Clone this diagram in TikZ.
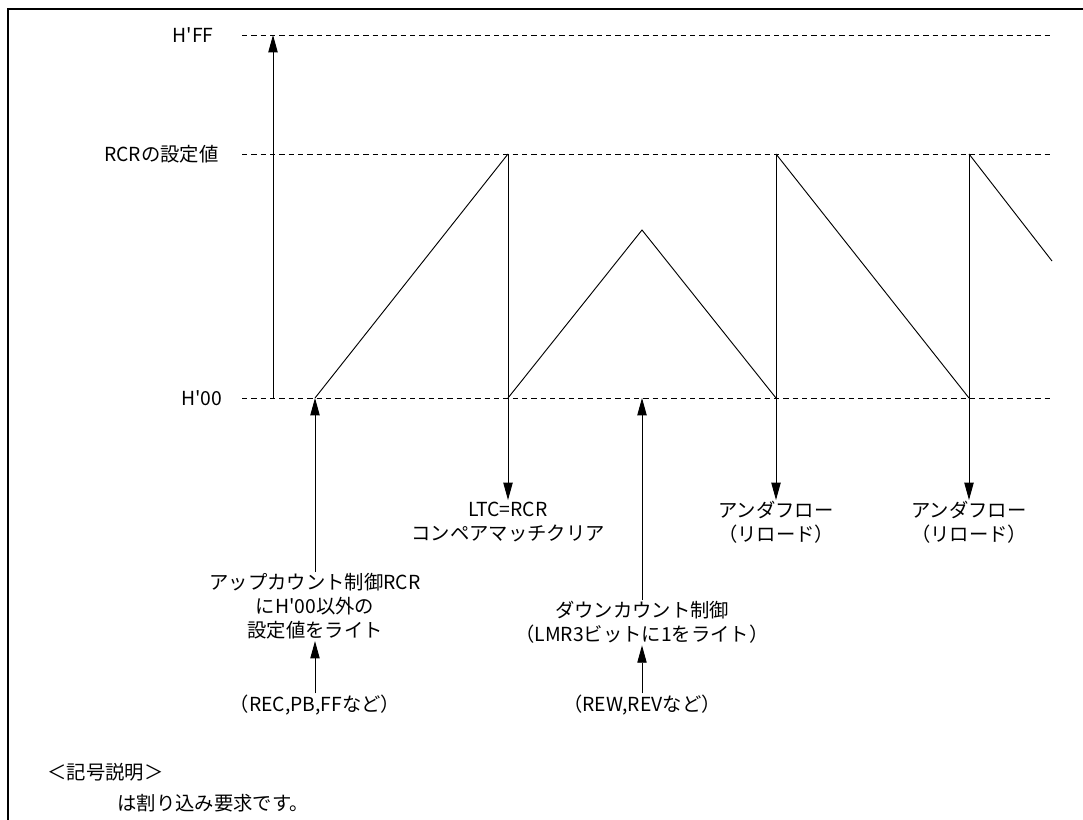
\documentclass[tikz,border=0pt]{standalone}
\usepackage{fontspec}
\setmainfont{Noto Sans CJK JP}[Ligatures=TeXOff]
\usetikzlibrary{arrows.meta, positioning}

\begin{document}
\begin{tikzpicture}[
    x=0.75pt, y=-0.75pt,
    level/.style={dash pattern=on 4pt off 3pt, line width=0.6pt},
    wave/.style={line width=0.7pt},
    intr/.style={-{Triangle[length=13pt, width=7pt]}, line width=0.7pt},
    lbl/.style={
        align=center,
        inner sep=1pt,
        font=\fontsize{14.5}{18}\selectfont
    }
]
\useasboundingbox (0,0) rectangle (1083,820);

% --- 枠 ---
\draw[line width=1.5pt] (8,830) -- (8,9) -- (1095,9);

% --- レベル（破線） ---
\draw[level] (242,35)  -- (1052,35);
\draw[level] (242,154) -- (1052,154);
\draw[level] (242,398) -- (1052,398);

\node[lbl, anchor=east] (lff)  at (215,35)  {H'FF};
\node[lbl, anchor=east] (lrcr) at (220,154) {RCRの設定値};
\node[lbl, anchor=east] (l00)  at (224,398) {H'00};

% --- 縦軸 ---
\coordinate (axbot) at (273,398);
\coordinate (axtop) at (273,35);
\draw[intr] (axbot) -- (axtop);

% --- カウンタ波形 ---
\coordinate (st)   at (315,398);
\coordinate (m1)   at (508,154);
\coordinate (c1)   at (508,398);
\coordinate (pk)   at (642,230);
\coordinate (u1)   at (776,398);
\coordinate (r1)   at (776,154);
\coordinate (u2)   at (969,398);
\coordinate (r2)   at (969,154);
\coordinate (wend) at (1052,261);
\coordinate (dn)   at (642,398);

\draw[wave] (st) -- (m1);
\draw[wave] (c1) -- (pk) -- (u1);
\draw[wave] (r1) -- (u2);
\draw[wave] (r2) -- (wend);

% --- ラベル ---
\node[lbl, anchor=north] (ltc) at (508,500) {LTC=RCR\\コンペアマッチクリア};
\node[lbl, anchor=north] (uf1) at (776,500) {アンダフロー\\（リロード）};
\node[lbl, anchor=north] (uf2) at (969,500) {アンダフロー\\（リロード）};

\node[lbl, anchor=north] (upc) at (315,572)
{アップカウント制御RCR\\にH'00以外の\\設定値をライト};
\node[lbl, anchor=north] (dnc) at (642,600)
{ダウンカウント制御\\（LMR3ビットに1をライト）};

\node[lbl] (rec) at (315,705) {（REC,PB,FFなど）};
\node[lbl] (rew) at (642,705) {（REW,REVなど）};

% --- 割り込み要求 ---
\draw[intr] (m1) -- (ltc.north);
\draw[intr] (r1) -- (uf1.north);
\draw[intr] (r2) -- (uf2.north);
\draw[intr] (upc.north) -- (st);
\draw[intr] (dnc.north) -- (dn);
\draw[intr] (rec.north) -- (upc.south);
\draw[intr] (rew.north) -- (dnc.south);

% --- 記号説明 ---
\node[lbl, anchor=west] (key)  at (46,772)  {＜記号説明＞};
\node[lbl, anchor=west] (keyt) at (116,803) {は割り込み要求です。};

\end{tikzpicture}
\end{document}
